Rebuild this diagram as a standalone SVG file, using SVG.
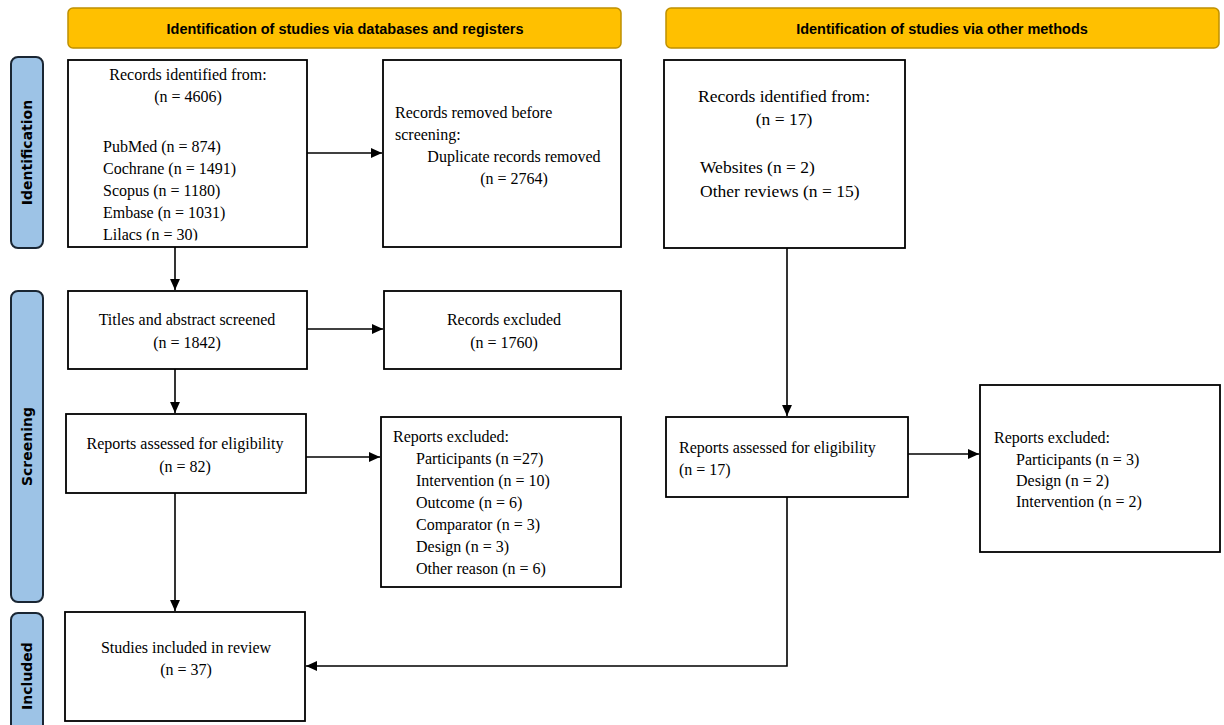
<svg xmlns="http://www.w3.org/2000/svg" width="1224" height="725" viewBox="0 0 1224 725">
<style>
  .hdr{fill:#FFC000;stroke:#BF9000;stroke-width:1.5}
  .hdrt{font-family:"Liberation Sans",Arial,sans-serif;font-weight:bold;font-size:14.5px;fill:#000;text-anchor:middle}
  .side{fill:#9DC3E6;stroke:#1A2633;stroke-width:2}
  .sidet{font-family:"DejaVu Sans",Verdana,sans-serif;font-weight:bold;font-size:14px;fill:#000;text-anchor:middle;dominant-baseline:central}
  .box{fill:#fff;stroke:#000;stroke-width:1.8}
  .t{font-family:"Liberation Serif","Times New Roman",serif;font-size:16px;fill:#000}
  .tl{font-family:"Liberation Serif","Times New Roman",serif;font-size:17.5px;fill:#000}
  .c{text-anchor:middle}
  .conn{fill:none;stroke:#000;stroke-width:1.6}
</style>
<defs>
  <marker id="arr" markerUnits="userSpaceOnUse" markerWidth="11" markerHeight="11" viewBox="0 0 10 10" refX="10" refY="5" orient="auto">
    <path d="M0,0.5 L10,5 L0,9.5 Z" fill="#000"/>
  </marker>
  <clipPath id="clip1"><rect x="68" y="60" width="239" height="180.5"/></clipPath>
</defs>
<rect width="1224" height="725" fill="#fff"/>

<g id="header-databases">
  <rect class="hdr" x="68" y="8" width="553" height="40" rx="5"/>
  <text class="hdrt" x="345" y="34">Identification of studies via databases and registers</text>
</g>
<g id="header-other">
  <rect class="hdr" x="666" y="8" width="553" height="40" rx="5"/>
  <text class="hdrt" x="942" y="34">Identification of studies via other methods</text>
</g>

<g id="phase-identification">
  <rect class="side" x="11" y="57" width="32" height="191" rx="7"/>
  <text class="sidet" transform="translate(27,152.5) rotate(-90)">Identification</text>
</g>
<g id="phase-screening">
  <rect class="side" x="11" y="291" width="32" height="311" rx="7"/>
  <text class="sidet" transform="translate(27,446.5) rotate(-90)">Screening</text>
</g>
<g id="phase-included">
  <rect class="side" x="11" y="613" width="32" height="126" rx="7"/>
  <text class="sidet" transform="translate(27,676) rotate(-90)">Included</text>
</g>

<g id="records-identified-db">
  <rect class="box" x="68" y="60" width="239" height="187"/>
  <g clip-path="url(#clip1)">
    <text class="t c" x="188" y="80">Records identified from:</text>
    <text class="t c" x="188" y="102">(n = 4606)</text>
    <text class="t" x="103" y="152">PubMed (n = 874)</text>
    <text class="t" x="103" y="174">Cochrane (n = 1491)</text>
    <text class="t" x="103" y="196">Scopus (n = 1180)</text>
    <text class="t" x="103" y="218">Embase (n = 1031)</text>
    <text class="t" x="103" y="239.5">Lilacs (n = 30)</text>
  </g>
</g>

<g id="records-removed">
  <rect class="box" x="383" y="60" width="238" height="187"/>
  <text class="t" x="395" y="118">Records removed before</text>
  <text class="t" x="395" y="140">screening:</text>
  <text class="t c" x="514" y="162">Duplicate records removed</text>
  <text class="t c" x="514" y="184">(n = 2764)</text>
</g>

<g id="titles-screened">
  <rect class="box" x="68" y="291" width="239" height="78"/>
  <text class="t c" x="187" y="325">Titles and abstract screened</text>
  <text class="t c" x="187" y="348">(n = 1842)</text>
</g>

<g id="records-excluded">
  <rect class="box" x="384" y="291" width="237" height="78"/>
  <text class="t c" x="504" y="325">Records excluded</text>
  <text class="t c" x="504" y="348">(n = 1760)</text>
</g>

<g id="reports-assessed-db">
  <rect class="box" x="66" y="414" width="240" height="79"/>
  <text class="t c" x="185" y="449">Reports assessed for eligibility</text>
  <text class="t c" x="185" y="472">(n = 82)</text>
</g>

<g id="reports-excluded-db">
  <rect class="box" x="381" y="417" width="240" height="170"/>
  <text class="t" x="393" y="442">Reports excluded:</text>
  <text class="t" x="416" y="464">Participants (n =27)</text>
  <text class="t" x="416" y="486">Intervention (n = 10)</text>
  <text class="t" x="416" y="508">Outcome (n = 6)</text>
  <text class="t" x="416" y="530">Comparator (n = 3)</text>
  <text class="t" x="416" y="552">Design (n = 3)</text>
  <text class="t" x="416" y="574">Other reason (n = 6)</text>
</g>

<g id="studies-included">
  <rect class="box" x="65" y="612" width="240" height="109"/>
  <text class="t c" x="186" y="653">Studies included in review</text>
  <text class="t c" x="186" y="675">(n = 37)</text>
</g>

<g id="records-identified-other">
  <rect class="box" x="664" y="60" width="241" height="188"/>
  <text class="tl c" x="784" y="102">Records identified from:</text>
  <text class="tl c" x="784" y="125">(n = 17)</text>
  <text class="tl" x="700" y="173">Websites (n = 2)</text>
  <text class="tl" x="700" y="197">Other reviews (n = 15)</text>
</g>

<g id="reports-assessed-other">
  <rect class="box" x="666" y="417" width="242" height="80"/>
  <text class="t" x="679" y="453">Reports assessed for eligibility</text>
  <text class="t" x="679" y="475">(n = 17)</text>
</g>

<g id="reports-excluded-other">
  <rect class="box" x="980" y="385" width="240" height="167"/>
  <text class="t" x="994" y="443">Reports excluded:</text>
  <text class="t" x="1016" y="465">Participants (n = 3)</text>
  <text class="t" x="1016" y="486">Design (n = 2)</text>
  <text class="t" x="1016" y="507">Intervention (n = 2)</text>
</g>

<g id="connectors">
  <path class="conn" d="M307,153 H382" marker-end="url(#arr)"/>
  <path class="conn" d="M175,247 V290" marker-end="url(#arr)"/>
  <path class="conn" d="M307,329 H383" marker-end="url(#arr)"/>
  <path class="conn" d="M175,369 V413" marker-end="url(#arr)"/>
  <path class="conn" d="M306,457 H380" marker-end="url(#arr)"/>
  <path class="conn" d="M175,493 V611" marker-end="url(#arr)"/>
  <path class="conn" d="M787,248 V416" marker-end="url(#arr)"/>
  <path class="conn" d="M908,454 H979" marker-end="url(#arr)"/>
  <path class="conn" d="M787,497 V666 H306" marker-end="url(#arr)"/>
</g>
</svg>
